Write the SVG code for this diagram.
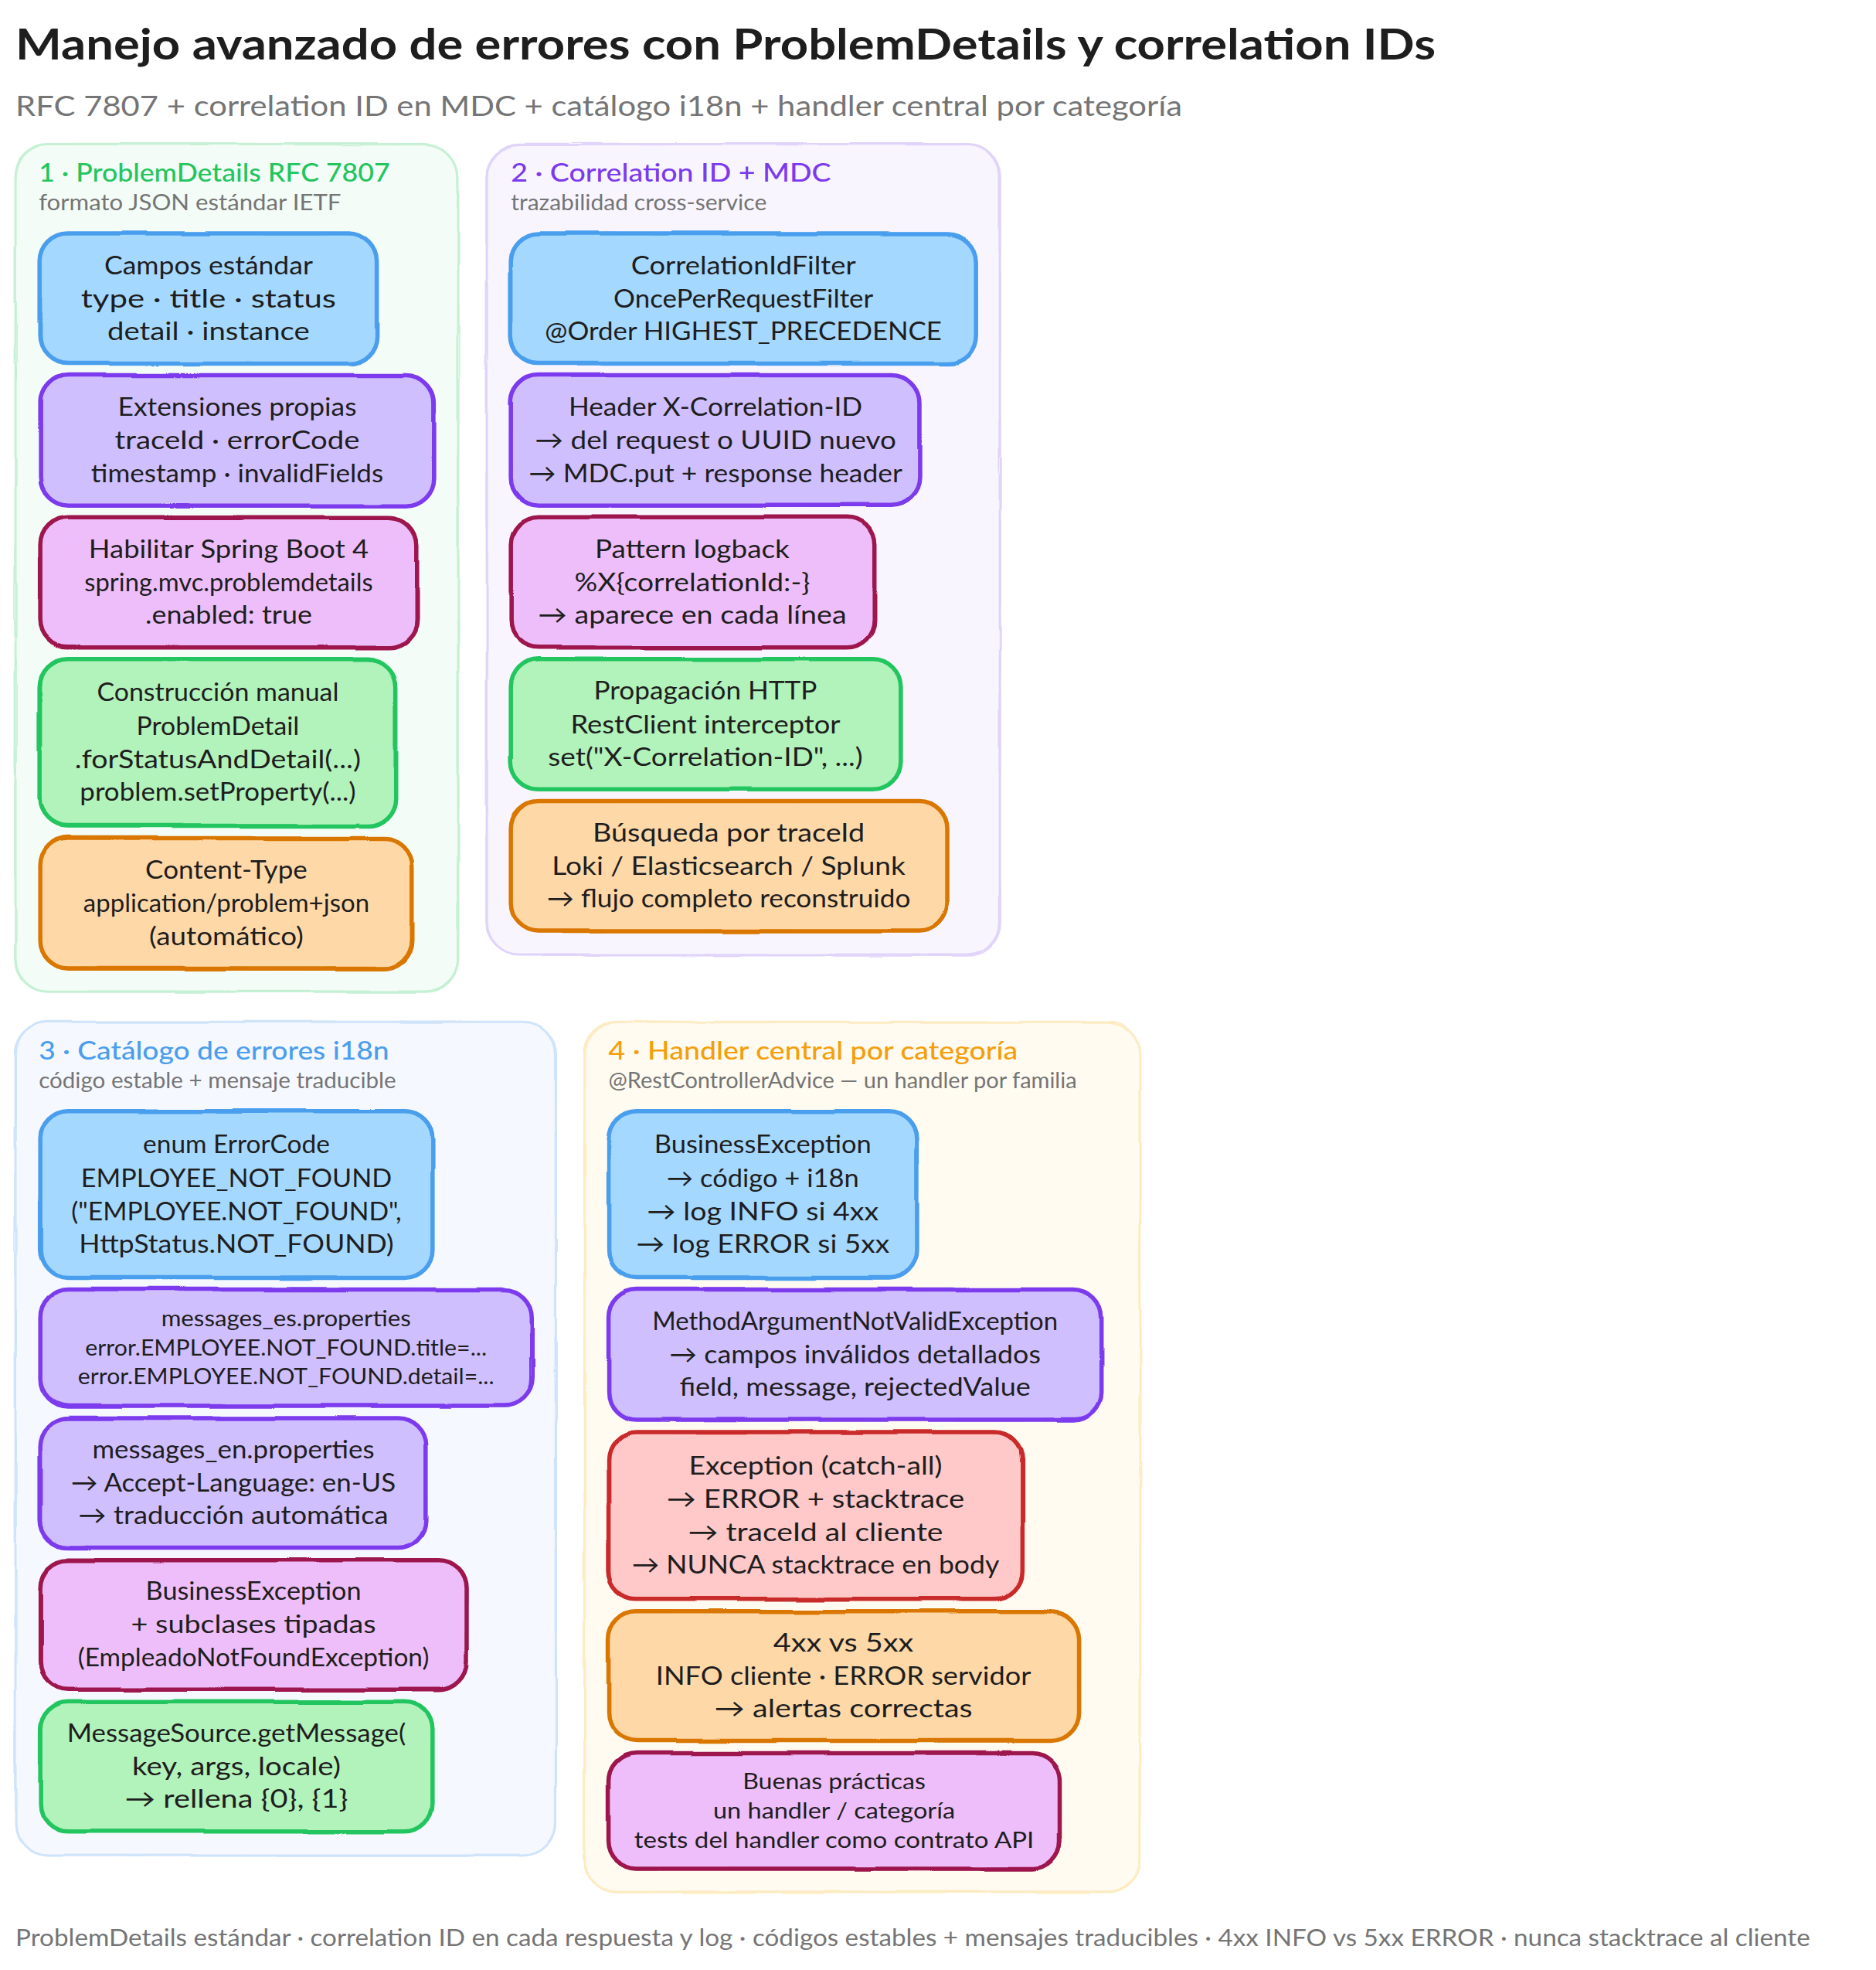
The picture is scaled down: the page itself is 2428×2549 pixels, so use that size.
<svg xmlns="http://www.w3.org/2000/svg" width="2428" height="2549" viewBox="0 0 2428 2549">
<style>
text{font-family:"Lato","Liberation Sans",sans-serif;fill:#1e1e1e;font-size:33px}
.n text{text-anchor:middle;transform:translateY(1.5px)}
.s text{font-size:29px}
.title{font-size:56px;font-weight:700;transform:translateY(3px)}
.sub{font-size:36px;fill:#757575;transform:translateY(1px)}
.foot{font-size:30px;fill:#757575;transform:translateY(1px)}
.h{font-size:32px;font-weight:500;transform:translateY(2.5px)}
.d{font-size:28px;fill:#757575;transform:translateY(2.5px)}
rect{stroke-width:5.5;filter:url(#w)}
rect.o{fill:none;stroke-width:2.5;filter:url(#w2)}
.p rect{stroke-width:3}
.p rect.o{stroke-width:1.5}
.blue rect{fill:#a5d8ff;stroke:#4a9eed}
.purple rect{fill:#d0bfff;stroke:#7c3aed}
.pink rect{fill:#eebefa;stroke:#9d174d}
.green rect{fill:#b2f2bb;stroke:#22c55e}
.orange rect{fill:#ffd8a8;stroke:#d97706}
.red rect{fill:#ffc9c9;stroke:#c92a2a}
.blue rect.o,.purple rect.o,.pink rect.o,.green rect.o,.orange rect.o,.red rect.o{fill:none}
.pg rect{fill:#f3fcf6;stroke:#c6f0d4}
.pv rect{fill:#f8f5ff;stroke:#e0d4fb}
.pb rect{fill:#f5f8ff;stroke:#cfe3fa}
.py rect{fill:#fffbf0;stroke:#fdebc2}
.pg rect.o,.pv rect.o,.pb rect.o,.py rect.o{fill:none}
</style>
<defs>
<filter id="w" x="-3%" y="-3%" width="106%" height="106%"><feTurbulence type="fractalNoise" baseFrequency="0.007" numOctaves="2" seed="3"/><feDisplacementMap in="SourceGraphic" scale="5" xChannelSelector="R" yChannelSelector="G"/></filter>
<filter id="w2" x="-3%" y="-3%" width="106%" height="106%"><feTurbulence type="fractalNoise" baseFrequency="0.006" numOctaves="2" seed="11"/><feDisplacementMap in="SourceGraphic" scale="7" xChannelSelector="R" yChannelSelector="G"/></filter>
</defs>
<rect width="2428" height="2549" fill="#ffffff" style="stroke:none;filter:none"/>
<g transform="scale(1.0033)">
<g id="header">
<text class="title" x="20" y="74" textLength="1832" lengthAdjust="spacingAndGlyphs">Manejo avanzado de errores con ProblemDetails y correlation IDs</text>
<text class="sub" x="20" y="149" textLength="1505" lengthAdjust="spacingAndGlyphs">RFC 7807 + correlation ID en MDC + catálogo i18n + handler central por categoría</text>
</g>

<g id="panel-1" class="p pg">
<rect x="20" y="186" width="571" height="1093" rx="42"/><rect class="o" x="20" y="186" width="571" height="1093" rx="42"/>
<text class="h" style="fill:#22c55e" x="50" y="232" textLength="453" lengthAdjust="spacingAndGlyphs">1 · ProblemDetails RFC 7807</text>
<text class="d" x="50" y="269" textLength="390" lengthAdjust="spacingAndGlyphs">formato JSON estándar IETF</text>
</g>
<g id="panel-2" class="p pv">
<rect x="628" y="186" width="662" height="1046" rx="42"/><rect class="o" x="628" y="186" width="662" height="1046" rx="42"/>
<text class="h" style="fill:#7c3aed" x="659" y="232" textLength="413" lengthAdjust="spacingAndGlyphs">2 · Correlation ID + MDC</text>
<text class="d" x="659" y="269" textLength="330" lengthAdjust="spacingAndGlyphs">trazabilidad cross-service</text>
</g>
<g id="panel-3" class="p pb">
<rect x="20" y="1318" width="697" height="1075" rx="42"/><rect class="o" x="20" y="1318" width="697" height="1075" rx="42"/>
<text class="h" style="fill:#4a9eed" x="50" y="1364" textLength="452" lengthAdjust="spacingAndGlyphs">3 · Catálogo de errores i18n</text>
<text class="d" x="50" y="1401" textLength="461" lengthAdjust="spacingAndGlyphs">código estable + mensaje traducible</text>
</g>
<g id="panel-4" class="p py">
<rect x="754" y="1318" width="717" height="1122" rx="42"/><rect class="o" x="754" y="1318" width="717" height="1122" rx="42"/>
<text class="h" style="fill:#f59e0b" x="785" y="1364" textLength="528" lengthAdjust="spacingAndGlyphs">4 · Handler central por categoría</text>
<text class="d" x="785" y="1401" textLength="604" lengthAdjust="spacingAndGlyphs">@RestControllerAdvice — un handler por familia</text>
</g>

<g id="n1-1" class="n blue"><rect x="52" y="301" width="434" height="168" rx="36"/><rect class="o" x="52" y="301" width="434" height="168" rx="36"/>
<text x="269" y="352" textLength="269" lengthAdjust="spacingAndGlyphs">Campos estándar</text><text x="269" y="395" textLength="329" lengthAdjust="spacingAndGlyphs">type · title · status</text><text x="269" y="437" textLength="261" lengthAdjust="spacingAndGlyphs">detail · instance</text></g>
<g id="n1-2" class="n purple"><rect x="52" y="484" width="508" height="168" rx="36"/><rect class="o" x="52" y="484" width="508" height="168" rx="36"/>
<text x="306" y="535" textLength="308" lengthAdjust="spacingAndGlyphs">Extensiones propias</text><text x="306" y="578" textLength="316" lengthAdjust="spacingAndGlyphs">traceId · errorCode</text><text x="306" y="620" textLength="377" lengthAdjust="spacingAndGlyphs">timestamp · invalidFields</text></g>
<g id="n1-3" class="n pink"><rect x="52" y="667" width="485" height="168" rx="36"/><rect class="o" x="52" y="667" width="485" height="168" rx="36"/>
<text x="295" y="718" textLength="361" lengthAdjust="spacingAndGlyphs">Habilitar Spring Boot 4</text><text x="295" y="761" textLength="372" lengthAdjust="spacingAndGlyphs">spring.mvc.problemdetails</text><text x="295" y="803" textLength="215" lengthAdjust="spacingAndGlyphs">.enabled: true</text></g>
<g id="n1-4" class="n green"><rect x="52" y="850" width="458" height="215" rx="36"/><rect class="o" x="52" y="850" width="458" height="215" rx="36"/>
<text x="281" y="903" textLength="312" lengthAdjust="spacingAndGlyphs">Construcción manual</text><text x="281" y="946" textLength="210" lengthAdjust="spacingAndGlyphs">ProblemDetail</text><text x="281" y="989" textLength="369" lengthAdjust="spacingAndGlyphs">.forStatusAndDetail(...)</text><text x="281" y="1031" textLength="356" lengthAdjust="spacingAndGlyphs">problem.setProperty(...)</text></g>
<g id="n1-5" class="n orange"><rect x="52" y="1081" width="479" height="168" rx="36"/><rect class="o" x="52" y="1081" width="479" height="168" rx="36"/>
<text x="292" y="1132" textLength="209" lengthAdjust="spacingAndGlyphs">Content-Type</text><text x="292" y="1175" textLength="369" lengthAdjust="spacingAndGlyphs">application/problem+json</text><text x="292" y="1217" textLength="199" lengthAdjust="spacingAndGlyphs">(automático)</text></g>

<g id="n2-1" class="n blue"><rect x="659" y="301" width="600" height="168" rx="36"/><rect class="o" x="659" y="301" width="600" height="168" rx="36"/>
<text x="959" y="352" textLength="290" lengthAdjust="spacingAndGlyphs">CorrelationIdFilter</text><text x="959" y="395" textLength="335" lengthAdjust="spacingAndGlyphs">OncePerRequestFilter</text><text x="959" y="437" textLength="512" lengthAdjust="spacingAndGlyphs">@Order HIGHEST_PRECEDENCE</text></g>
<g id="n2-2" class="n purple"><rect x="659" y="484" width="527" height="168" rx="36"/><rect class="o" x="659" y="484" width="527" height="168" rx="36"/>
<text x="923" y="535" textLength="379" lengthAdjust="spacingAndGlyphs">Header X-Correlation-ID</text><text x="923" y="578" textLength="466" lengthAdjust="spacingAndGlyphs">→ del request o UUID nuevo</text><text x="923" y="620" textLength="482" lengthAdjust="spacingAndGlyphs">→ MDC.put + response header</text></g>
<g id="n2-3" class="n pink"><rect x="659" y="667" width="469" height="168" rx="36"/><rect class="o" x="659" y="667" width="469" height="168" rx="36"/>
<text x="893" y="718" textLength="251" lengthAdjust="spacingAndGlyphs">Pattern logback</text><text x="893" y="761" textLength="304" lengthAdjust="spacingAndGlyphs">%X{correlationId:-}</text><text x="893" y="803" textLength="398" lengthAdjust="spacingAndGlyphs">→ aparece en cada línea</text></g>
<g id="n2-4" class="n green"><rect x="659" y="850" width="503" height="168" rx="36"/><rect class="o" x="659" y="850" width="503" height="168" rx="36"/>
<text x="910" y="901" textLength="288" lengthAdjust="spacingAndGlyphs">Propagación HTTP</text><text x="910" y="944" textLength="348" lengthAdjust="spacingAndGlyphs">RestClient interceptor</text><text x="910" y="986" textLength="406" lengthAdjust="spacingAndGlyphs">set("X-Correlation-ID", ...)</text></g>
<g id="n2-5" class="n orange"><rect x="659" y="1033" width="563" height="168" rx="36"/><rect class="o" x="659" y="1033" width="563" height="168" rx="36"/>
<text x="940" y="1084" textLength="351" lengthAdjust="spacingAndGlyphs">Búsqueda por traceId</text><text x="940" y="1127" textLength="456" lengthAdjust="spacingAndGlyphs">Loki / Elasticsearch / Splunk</text><text x="940" y="1169" textLength="469" lengthAdjust="spacingAndGlyphs">→ flujo completo reconstruido</text></g>

<g id="n3-1" class="n blue"><rect x="52" y="1433" width="506" height="215" rx="36"/><rect class="o" x="52" y="1433" width="506" height="215" rx="36"/>
<text x="305" y="1486" textLength="241" lengthAdjust="spacingAndGlyphs">enum ErrorCode</text><text x="305" y="1529" textLength="401" lengthAdjust="spacingAndGlyphs">EMPLOYEE_NOT_FOUND</text><text x="305" y="1572" textLength="426" lengthAdjust="spacingAndGlyphs">("EMPLOYEE.NOT_FOUND",</text><text x="305" y="1614" textLength="406" lengthAdjust="spacingAndGlyphs">HttpStatus.NOT_FOUND)</text></g>
<g id="n3-2" class="n s purple"><rect x="52" y="1663" width="634" height="150" rx="36"/><rect class="o" x="52" y="1663" width="634" height="150" rx="36"/>
<text x="369" y="1709" textLength="322" lengthAdjust="spacingAndGlyphs">messages_es.properties</text><text x="369" y="1747" textLength="518" lengthAdjust="spacingAndGlyphs">error.EMPLOYEE.NOT_FOUND.title=...</text><text x="369" y="1784" textLength="537" lengthAdjust="spacingAndGlyphs">error.EMPLOYEE.NOT_FOUND.detail=...</text></g>
<g id="n3-3" class="n purple"><rect x="52" y="1829" width="498" height="167" rx="36"/><rect class="o" x="52" y="1829" width="498" height="167" rx="36"/>
<text x="301" y="1879" textLength="364" lengthAdjust="spacingAndGlyphs">messages_en.properties</text><text x="301" y="1922" textLength="419" lengthAdjust="spacingAndGlyphs">→ Accept-Language: en-US</text><text x="301" y="1964" textLength="400" lengthAdjust="spacingAndGlyphs">→ traducción automática</text></g>
<g id="n3-4" class="n pink"><rect x="52" y="2012" width="550" height="167" rx="36"/><rect class="o" x="52" y="2012" width="550" height="167" rx="36"/>
<text x="327" y="2062" textLength="278" lengthAdjust="spacingAndGlyphs">BusinessException</text><text x="327" y="2105" textLength="316" lengthAdjust="spacingAndGlyphs">+ subclases tipadas</text><text x="327" y="2147" textLength="453" lengthAdjust="spacingAndGlyphs">(EmpleadoNotFoundException)</text></g>
<g id="n3-5" class="n green"><rect x="52" y="2195" width="506" height="167" rx="36"/><rect class="o" x="52" y="2195" width="506" height="167" rx="36"/>
<text x="305" y="2245" textLength="437" lengthAdjust="spacingAndGlyphs">MessageSource.getMessage(</text><text x="305" y="2288" textLength="269" lengthAdjust="spacingAndGlyphs">key, args, locale)</text><text x="305" y="2330" textLength="288" lengthAdjust="spacingAndGlyphs">→ rellena {0}, {1}</text></g>

<g id="n4-1" class="n blue"><rect x="785" y="1433" width="398" height="215" rx="36"/><rect class="o" x="785" y="1433" width="398" height="215" rx="36"/>
<text x="984" y="1486" textLength="280" lengthAdjust="spacingAndGlyphs">BusinessException</text><text x="984" y="1529" textLength="248" lengthAdjust="spacingAndGlyphs">→ código + i18n</text><text x="984" y="1572" textLength="299" lengthAdjust="spacingAndGlyphs">→ log INFO si 4xx</text><text x="984" y="1614" textLength="327" lengthAdjust="spacingAndGlyphs">→ log ERROR si 5xx</text></g>
<g id="n4-2" class="n purple"><rect x="785" y="1663" width="636" height="168" rx="36"/><rect class="o" x="785" y="1663" width="636" height="168" rx="36"/>
<text x="1103" y="1714" textLength="523" lengthAdjust="spacingAndGlyphs">MethodArgumentNotValidException</text><text x="1103" y="1757" textLength="479" lengthAdjust="spacingAndGlyphs">→ campos inválidos detallados</text><text x="1103" y="1799" textLength="453" lengthAdjust="spacingAndGlyphs">field, message, rejectedValue</text></g>
<g id="n4-3" class="n red"><rect x="785" y="1847" width="534" height="215" rx="36"/><rect class="o" x="785" y="1847" width="534" height="215" rx="36"/>
<text x="1052" y="1900" textLength="327" lengthAdjust="spacingAndGlyphs">Exception (catch-all)</text><text x="1052" y="1943" textLength="384" lengthAdjust="spacingAndGlyphs">→ ERROR + stacktrace</text><text x="1052" y="1986" textLength="329" lengthAdjust="spacingAndGlyphs">→ traceId al cliente</text><text x="1052" y="2028" textLength="474" lengthAdjust="spacingAndGlyphs">→ NUNCA stacktrace en body</text></g>
<g id="n4-4" class="n orange"><rect x="785" y="2078" width="607" height="167" rx="36"/><rect class="o" x="785" y="2078" width="607" height="167" rx="36"/>
<text x="1088" y="2128" textLength="181" lengthAdjust="spacingAndGlyphs">4xx vs 5xx</text><text x="1088" y="2171" textLength="484" lengthAdjust="spacingAndGlyphs">INFO cliente · ERROR servidor</text><text x="1088" y="2213" textLength="333" lengthAdjust="spacingAndGlyphs">→ alertas correctas</text></g>
<g id="n4-5" class="n s pink"><rect x="785" y="2261" width="583" height="149" rx="36"/><rect class="o" x="785" y="2261" width="583" height="149" rx="36"/>
<text x="1076" y="2306" textLength="236" lengthAdjust="spacingAndGlyphs">Buenas prácticas</text><text x="1076" y="2344" textLength="312" lengthAdjust="spacingAndGlyphs">un handler / categoría</text><text x="1076" y="2382" textLength="516" lengthAdjust="spacingAndGlyphs">tests del handler como contrato API</text></g>

<text id="footer" class="foot" x="20" y="2509" textLength="2315" lengthAdjust="spacingAndGlyphs">ProblemDetails estándar · correlation ID en cada respuesta y log · códigos estables + mensajes traducibles · 4xx INFO vs 5xx ERROR · nunca stacktrace al cliente</text>
</g>
</svg>
